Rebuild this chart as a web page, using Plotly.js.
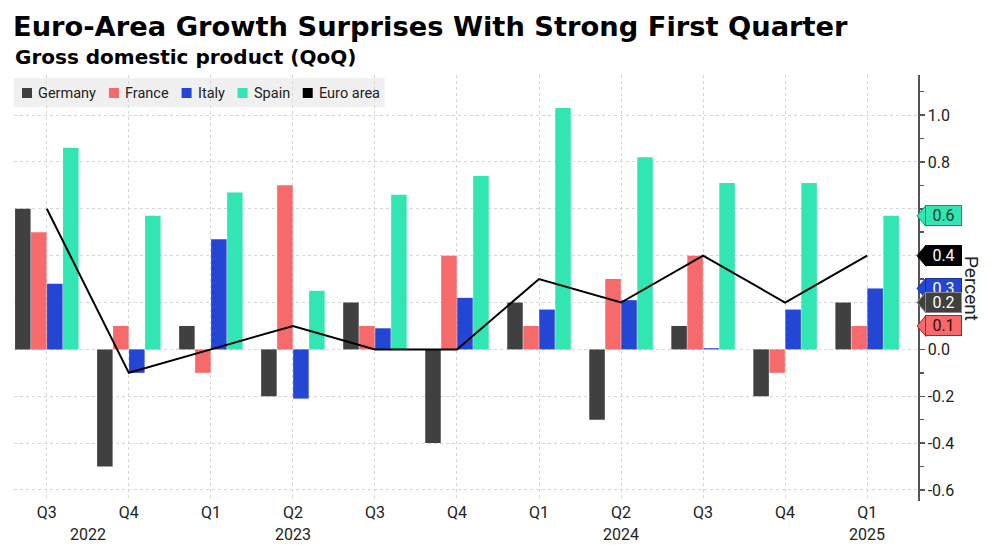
<!DOCTYPE html>
<html><head><meta charset="utf-8">
<script src="https://cdn.plot.ly/plotly-3.0.1.min.js"></script>
<style>html,body{margin:0;padding:0;background:#fff}#chart{width:1000px;height:545px}</style>
</head><body><div id="chart"></div>
<script>
// ---- data ----
const quarters = ["Q3","Q4","Q1","Q2","Q3","Q4","Q1","Q2","Q3","Q4","Q1"];
const years = ["2022","2023","2024","2025"];
const germany  = [0.6,-0.5, 0.1,-0.2, 0.2,-0.4, 0.2,-0.3, 0.1,-0.2, 0.2];
const france   = [0.5, 0.1,-0.1, 0.7, 0.1, 0.4, 0.1, 0.3, 0.4,-0.1, 0.1];
const italy    = [0.28,-0.1,0.47,-0.21,0.09,0.22,0.17,0.21,0.005,0.17,0.26];
const spain    = [0.86,0.57,0.67,0.25,0.66,0.74,1.03,0.82,0.71,0.71,0.57];
const euroArea = [0.6,-0.1, 0.0, 0.1, 0.0, 0.0, 0.3, 0.2, 0.4, 0.2, 0.4];
const seriesNames = ["Germany","France","Italy","Spain","Euro area"];
const yTickVals = [-0.6,-0.4,-0.2,0.0,0.2,0.4,0.6,0.8,1.0];

// ---- styling / layout helpers ----
const colors = {Germany:"#404040", France:"#f76a6c", Italy:"#2446d4", Spain:"#31e6b2", "Euro area":"#000000"};
const W = 1000, H = 545, ML = 14, MR = 82, MT = 75, MB = 44;
const plotW = W - ML - MR, plotH = H - MT - MB;
const yMin = -0.647, yMax = 1.171;
const px2x = px => (px - ML) / plotW;
const py2y = py => (H - MB - py) / plotH;
const v2y = v => (v - yMin) / (yMax - yMin);
const FONT = "Roboto, 'Open Sans', sans-serif";
const idx = quarters.map((_, i) => i);

const barSeries = [["Germany", germany], ["France", france], ["Italy", italy], ["Spain", spain]];
const traces = barSeries.map(([name, vals]) => ({
  type: "bar", name, x: idx, y: vals, marker: {color: colors[name], line: {width: 0}},
  showlegend: false, hoverinfo: "skip"
}));
traces.push({type: "scatter", mode: "lines", name: "Euro area", x: idx, y: euroArea,
  line: {color: "#000", width: 2}, showlegend: false, hoverinfo: "skip"});

const shapes = [], annotations = [];

// manual legend
const ctx = document.createElement("canvas").getContext("2d");
const legFontSize = 14.5;
ctx.font = legFontSize + "px Roboto";
let cx = 22;
const legItems = [];
seriesNames.forEach(n => {
  const tw = ctx.measureText(n).width;
  legItems.push({n, iconX: cx, textX: cx + 14, tw});
  cx += 14 + tw + 15;
});
const legRight = legItems[legItems.length - 1].textX + legItems[legItems.length - 1].tw + 7;
shapes.push({type: "rect", xref: "paper", yref: "paper", layer: "between",
  x0: px2x(14), x1: px2x(legRight), y0: py2y(107), y1: py2y(78),
  fillcolor: "#f0f0f0", line: {width: 0}});
legItems.forEach(it => {
  shapes.push({type: "rect", xref: "paper", yref: "paper", layer: "above",
    x0: px2x(it.iconX), x1: px2x(it.iconX + 10), y0: py2y(98), y1: py2y(88),
    fillcolor: colors[it.n], line: {width: 0}});
  annotations.push({xref: "paper", yref: "paper", x: px2x(it.textX), y: py2y(93),
    xanchor: "left", yanchor: "middle", showarrow: false, text: it.n,
    font: {family: FONT, size: legFontSize, color: "#222"}});
});

// right-side value tags
const last = a => a[a.length - 1];
const tags = [
  {n: "Spain", v: last(spain), fill: "#31e6b2", border: "#1d8f6e", fc: "#0b3b2e"},
  {n: "Euro area", v: last(euroArea), fill: "#000000", border: "#000000", fc: "#ffffff"},
  {n: "Italy", v: last(italy), fill: "#2446d4", border: "#1a2f8a", fc: "#ffffff"},
  {n: "Germany", v: last(germany), fill: "#404040", border: "#8a8a8a", fc: "#ffffff"},
  {n: "France", v: last(france), fill: "#f76a6c", border: "#8a3030", fc: "#3a0a0a"}
].sort((a, b) => b.v - a.v);
tags.forEach(t => {
  const yc = v2y(t.v), h = 10.5 / plotH;
  const xa = px2x(917), xb = px2x(926);
  shapes.push({type: "path", xref: "paper", yref: "paper", layer: "above",
    path: `M ${xa},${yc} L ${xb},${yc + h} L ${xb},${yc - h} Z`,
    fillcolor: t.fill, line: {color: t.border, width: 1}});
  annotations.push({xref: "paper", yref: "paper", x: px2x(925), y: yc, xanchor: "left", yanchor: "middle",
    showarrow: false, text: t.v.toFixed(1), width: 35, height: 19, borderpad: 0, borderwidth: 1,
    bgcolor: t.fill, bordercolor: t.border, align: "center",
    font: {family: FONT, size: 16, color: t.fc}});
});
// tick labels hidden behind tags in the reference
const tagVals = tags.map(t => t.v);
const yTickText = yTickVals.map(v => tagVals.some(tv => Math.abs(tv - v) < 0.045) ? "" : v.toFixed(1));

// year labels under quarter ticks
const yearPos = [0.5, 3, 7, 10];
years.forEach((yr, i) => annotations.push({xref: "x", yref: "paper", x: yearPos[i], y: py2y(534),
  yanchor: "middle", showarrow: false, text: yr, font: {family: FONT, size: 16, color: "#222"}}));

// subtitle and axis label
annotations.push({xref: "paper", yref: "paper", x: px2x(13), y: py2y(57), xanchor: "left", yanchor: "middle",
  showarrow: false, text: "<b>Gross domestic product (QoQ)</b>",
  font: {family: "DejaVu Sans, Verdana, sans-serif", size: 20, color: "#000"}});
annotations.push({xref: "paper", yref: "paper", x: px2x(972), y: 0.5, xanchor: "center", yanchor: "middle",
  textangle: 90, showarrow: false, text: "Percent", font: {family: FONT, size: 19, color: "#222"}});

const layout = {
  width: W, height: H, margin: {l: ML, r: MR, t: MT, b: MB, pad: 0},
  paper_bgcolor: "#fff", plot_bgcolor: "#fff",
  title: {text: "<b>Euro-Area Growth Surprises With Strong First Quarter</b>",
    xref: "container", yref: "container", x: 13 / W, xanchor: "left", y: 1 - 26 / H, yanchor: "middle",
    font: {family: "DejaVu Sans, Verdana, sans-serif", size: 27.3, color: "#000"}},
  barmode: "group", bargap: 0.22, bargroupgap: 0.03,
  showlegend: false,
  xaxis: {range: [-0.4, 10.62], tickmode: "array", tickvals: idx, ticktext: quarters,
    showgrid: true, gridcolor: "#d6d6d6", griddash: "dot", gridwidth: 1, zeroline: false,
    showline: false, ticks: "", tickfont: {family: FONT, size: 16, color: "#222"}, fixedrange: true},
  yaxis: {side: "right", range: [yMin, yMax], tickmode: "array", tickvals: yTickVals, ticktext: yTickText,
    ticks: "outside", ticklen: 5, tickcolor: "#555", tickwidth: 1.5,
    showline: true, linecolor: "#555", linewidth: 1.5, zeroline: false,
    showgrid: true, gridcolor: "#d6d6d6", griddash: "dot", gridwidth: 1,
    minor: {dtick: 0.1, tick0: 0, ticks: "outside", ticklen: 4, tickcolor: "#555", showgrid: false},
    tickfont: {family: FONT, size: 16, color: "#222"}, fixedrange: true},
  shapes, annotations
};
Plotly.newPlot("chart", traces, layout, {displayModeBar: false, staticPlot: true});
</script></body></html>
